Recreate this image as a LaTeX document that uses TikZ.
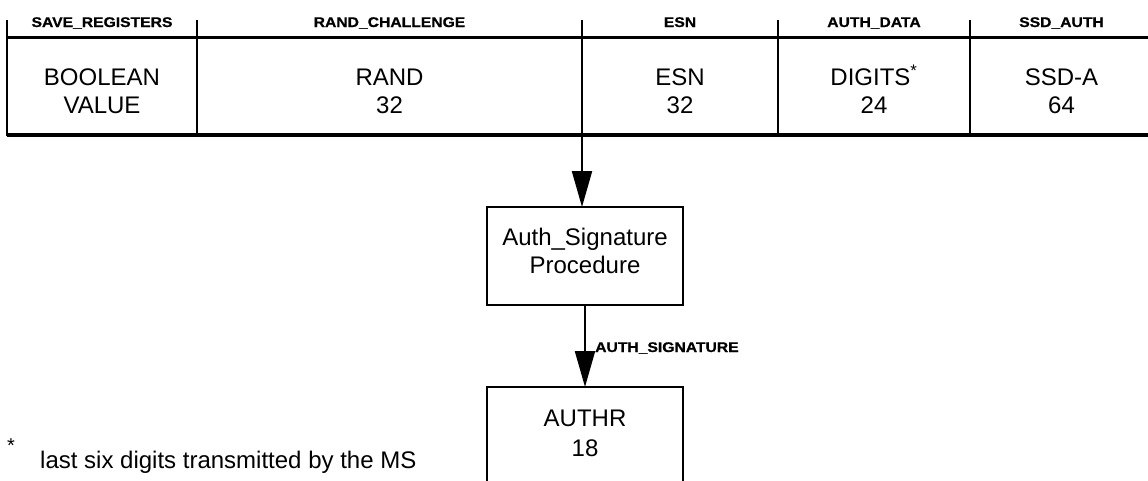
\documentclass[tikz,border=0pt]{standalone}
\usepackage{fontspec}
\setmainfont{Liberation Sans}
\newfontfamily\hdrfont[FakeStretch=1.12,BoldFeatures={FakeBold=0.8}]{Liberation Sans}
\usetikzlibrary{arrows.meta}
\begin{document}
\begin{tikzpicture}[x=1pt,y=-1pt,
  cell/.style={draw, line width=2.4pt, minimum width=#1, minimum height=98pt,
    inner sep=0pt, outer sep=0pt, anchor=north west},
  box/.style={draw, line width=2.4pt, inner sep=0pt, outer sep=0pt},
  val/.style={align=center, inner sep=0pt, font=\fontsize{24pt}{28pt}\selectfont},
  hdr/.style={inner sep=0pt, anchor=base, font=\hdrfont\bfseries\fontsize{14pt}{16pt}\selectfont},
  tick/.style={line width=2.2pt},
  conn/.style={line width=2.2pt, -{Triangle[length=36pt,width=20pt]}}]
\useasboundingbox (0,0) rectangle (1148,480);
% table cells
\node[cell=190pt] (c1) at (7,37) {};
\node[cell=385pt] (c2) at (197,37) {};
\node[cell=196pt] (c3) at (582,37) {};
\node[cell=192pt] (c4) at (778,37) {};
\node[cell=183pt] (c5) at (970,37) {};
\draw[line width=3.2pt] (c1.south west) -- (c5.south east);
\draw[line width=3pt] (c1.north west) -- (c5.north east);
% ticks above dividers
\draw[tick] (c1.north west) -- ++(0,-17);
\draw[tick] (c2.north west) -- ++(0,-17);
\draw[tick] (c3.north west) -- ++(0,-17);
\draw[tick] (c4.north west) -- ++(0,-17);
\draw[tick] (c5.north west) -- ++(0,-17);
% headers
\node[hdr] (h1) at ([yshift=10pt]c1.north) {SAVE\_REGISTERS};
\node[hdr] (h2) at ([yshift=10pt]c2.north) {RAND\_CHALLENGE};
\node[hdr] (h3) at ([yshift=10pt]c3.north) {ESN};
\node[hdr] (h4) at ([yshift=10pt]c4.north) {AUTH\_DATA};
\node[hdr] (h5) at ([yshift=10pt]c5.north) {SSD\_AUTH};
% cell texts
\node[val] (t1) at ([yshift=-5pt]c1.center) {BOOLEAN\\VALUE};
\node[val] (t2) at ([yshift=-5pt]c2.center) {RAND\\32};
\node[val] (t3) at ([yshift=-5pt]c3.center) {ESN\\32};
\node[val] (t4) at ([yshift=-5pt]c4.center) {DIGITS\smash{\textsuperscript{*}}\\24};
\node[val] (t5) at ([yshift=-5pt]c5.center) {SSD-A\\64};
% procedure
\node[box, minimum width=196pt, minimum height=98pt] (proc) at (585,256) {};
\node[val] (proct) at ([yshift=5pt]proc.center) {Auth\_Signature\\Procedure};
% result
\node[box, minimum width=196pt, minimum height=110pt, anchor=north] (authr) at (585,387) {};
\node[val, font=\fontsize{24pt}{30pt}\selectfont] (authrt) at (585,433) {AUTHR\\18};
% connectors
\draw[conn] (c3.south west) -- (c3.south west |- proc.north);
\draw[conn] (proc.south) -- (authr.north);
\node[hdr, anchor=base west] (siglbl) at (595,352) {AUTH\_SIGNATURE};
% footnote
\node[inner sep=0pt, anchor=base west, font=\fontsize{20pt}{24pt}\selectfont] (fnstar) at (7,452) {*};
\node[val, anchor=base west] (fn) at (40,468) {last six digits transmitted by the MS};
\end{tikzpicture}
\end{document}
